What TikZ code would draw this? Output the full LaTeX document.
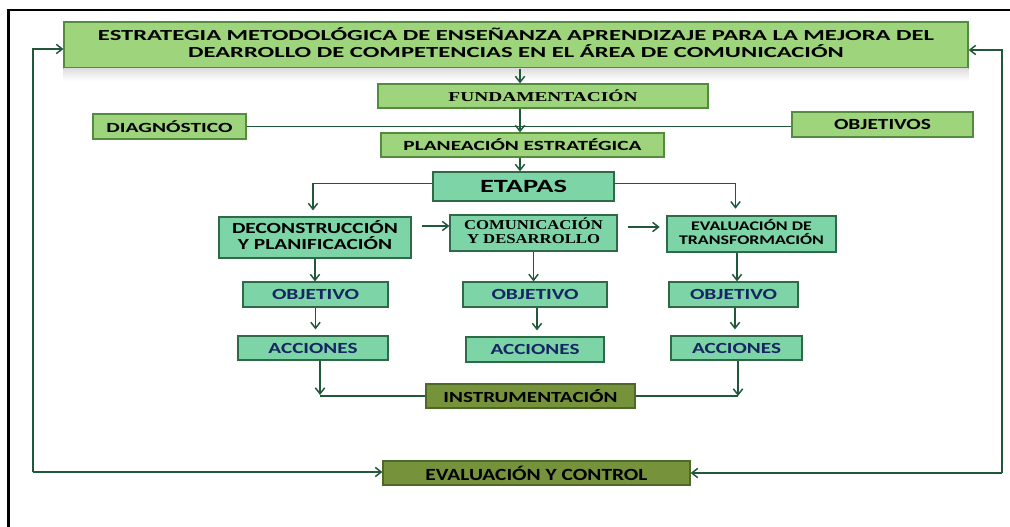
\documentclass[tikz,border=0pt]{standalone}
\usepackage{fontspec}
\setmainfont{Carlito}
\newfontfamily\serifbold{Liberation Serif}
\usepackage{graphicx}
\usetikzlibrary{arrows.meta,calc}

\definecolor{verdeclaro}{RGB}{157,212,124}
\definecolor{bordeclaro}{RGB}{84,140,62}
\definecolor{vmenta}{RGB}{125,212,167}
\definecolor{bordementa}{RGB}{46,105,72}
\definecolor{oliva}{RGB}{118,147,59}
\definecolor{bordeoliva}{RGB}{78,104,40}
\definecolor{flecha}{RGB}{33,88,58}
\definecolor{azul}{RGB}{22,38,98}

\newlength{\pxu}\setlength{\pxu}{0.75pt}
\newcommand{\fitw}[2]{\resizebox{#1\pxu}{\height}{#2}}

\begin{document}
\begin{tikzpicture}[x=0.75pt, y=-0.75pt,
    caja/.style ={rectangle, draw, line width=0.9pt, inner sep=0pt},
    claro/.style ={caja, fill=verdeclaro, draw=bordeclaro},
    cmenta/.style ={caja, fill=vmenta, draw=bordementa},
    coliva/.style ={caja, fill=oliva, draw=bordeoliva},
    enlace/.style ={draw=flecha, line width=1.1pt},
    flechita/.style ={enlace, -{Straight Barb[length=4.5pt,width=7pt]}}]
   \useasboundingbox (0,0) rectangle (1010,527);
   % marco
   \draw[line width=1.6pt] (1020,10) -- (8.5,10) -- (8.5,540);

   \node[claro, minimum width=678pt, minimum height=34.5pt, font=\bfseries\fontsize{11.5}{12}\selectfont] (titulo) at (516,45)
     {\fitw{836}{\begin{tabular}{@{}c@{}}ESTRATEGIA METODOLÓGICA DE ENSEÑANZA APRENDIZAJE PARA LA MEJORA DEL\\[-0.8pt] DEARROLLO DE COMPETENCIAS EN EL ÁREA DE COMUNICACIÓN\end{tabular}}};
   \shade[top color=black!13, bottom color=white] (titulo.south west) rectangle ($(titulo.south east)+(0,12)$);
   \node[claro, minimum width=247.5pt, minimum height=18pt, font=\serifbold\bfseries\fontsize{10.2}{12}\selectfont] (fund) at (543,96) {\fitw{189}{FUNDAMENTACIÓN}};
   \node[claro, minimum width=114.75pt, minimum height=18.75pt, font=\bfseries\fontsize{10.5}{12}\selectfont] (diag) at (169.5,126.5) {\fitw{126}{DIAGNÓSTICO}};
   \node[claro, minimum width=135.75pt, minimum height=18.75pt, font=\bfseries\fontsize{11.6}{12}\selectfont] (objs) at (882.5,124.5) {\fitw{97}{OBJETIVOS}};
   \node[claro, minimum width=212.25pt, minimum height=18pt, font=\bfseries\fontsize{10.5}{12}\selectfont] (plan) at (522.5,145) {\fitw{238}{PLANEACIÓN ESTRATÉGICA}};
   \node[cmenta, minimum width=135.75pt, minimum height=21.75pt, font=\bfseries\fontsize{14}{16}\selectfont] (etapas) at (523.5,186.5) {\fitw{87}{ETAPAS}};

   \node[cmenta, minimum width=144pt, minimum height=30.75pt, font=\bfseries\fontsize{11.6}{12}\selectfont] (decon) at (315,237.5)
     {\fitw{166}{\begin{tabular}{@{}c@{}}DECONSTRUCCIÓN\\[-1.3pt] Y PLANIFICACIÓN\end{tabular}}};
   \node[cmenta, minimum width=125.25pt, minimum height=27pt, font=\serifbold\bfseries\fontsize{10.2}{12}\selectfont] (comun) at (533.5,233)
     {\fitw{139}{\begin{tabular}{@{}c@{}}COMUNICACIÓN\\[-1.5pt] Y DESARROLLO\end{tabular}}};
   \node[cmenta, minimum width=126.75pt, minimum height=27pt, font=\bfseries\fontsize{9.9}{12}\selectfont] (evalt) at (751.5,234)
     {\fitw{145}{\begin{tabular}{@{}c@{}}EVALUACIÓN DE\\[-1.5pt] TRANSFORMACIÓN\end{tabular}}};

   \node[cmenta, minimum width=108.75pt, minimum height=18.75pt, text=azul, font=\bfseries\fontsize{11.6}{12}\selectfont] (obj1) at (315.5,294.5) {\fitw{87}{OBJETIVO}};
   \node[cmenta, minimum width=108pt, minimum height=18.75pt, text=azul, font=\bfseries\fontsize{11.6}{12}\selectfont] (obj2) at (535,294.5) {\fitw{87}{OBJETIVO}};
   \node[cmenta, minimum width=96.75pt, minimum height=18.75pt, text=azul, font=\bfseries\fontsize{11.6}{12}\selectfont] (obj3) at (733.5,294.5) {\fitw{87}{OBJETIVO}};
   \node[cmenta, minimum width=112.5pt, minimum height=18pt, text=azul, font=\bfseries\fontsize{11.6}{12}\selectfont] (acc1) at (313,348) {\fitw{89}{ACCIONES}};
   \node[cmenta, minimum width=103.5pt, minimum height=18.75pt, text=azul, font=\bfseries\fontsize{11.6}{12}\selectfont] (acc2) at (535,349.5) {\fitw{89}{ACCIONES}};
   \node[cmenta, minimum width=98.25pt, minimum height=18pt, text=azul, font=\bfseries\fontsize{11.6}{12}\selectfont] (acc3) at (736.5,348) {\fitw{89}{ACCIONES}};

   \node[coliva, minimum width=156.75pt, minimum height=18pt, font=\bfseries\fontsize{11.6}{12}\selectfont] (instr) at (530.5,396) {\fitw{174}{INSTRUMENTACIÓN}};
   \node[coliva, minimum width=230.25pt, minimum height=18pt, font=\bfseries\fontsize{12.8}{14}\selectfont] (evalc) at (536.5,473) {\fitw{222}{EVALUACIÓN Y CONTROL}};

   % eje central
   \coordinate (eje) at (520,0);
   \draw[flechita] (titulo.south -| eje) -- (fund.north -| eje);
   \draw[enlace] (diag.east) -- (diag.east -| objs.west);
   \draw[flechita] (fund.south -| eje) -- (plan.north -| eje);
   \draw[flechita] (plan.south -| eje) -- (etapas.north -| eje);

   % etapas
   \draw[flechita, shorten >=4.5pt] ($(etapas.west)+(0,-3)$) -| ($(decon.north)+(-2,0)$);
   \draw[flechita, shorten >=5pt] ($(etapas.east)+(0,-3)$) -| ($(evalt.north)+(-16,0)$);
   \coordinate (d1) at ($(decon.east)+(0,-11.5)$);
   \draw[flechita, shorten <=8pt] (d1) -- (d1 -| comun.west);
   \coordinate (c1) at ($(comun.east)+(0,-6)$);
   \draw[flechita, shorten <=8pt, shorten >=5pt] (c1) -- (c1 -| evalt.west);

   \draw[flechita] (decon.south) -- (decon.south |- obj1.north);
   \draw[flechita] (comun.south) -- (comun.south |- obj2.north);
   \coordinate (e1) at ($(evalt.south)+(-14.5,0)$);
   \draw[flechita] (e1) -- (e1 |- obj3.north);
   \draw[flechita, shorten >=4.5pt] (obj1.south) -- (obj1.south |- acc1.north);
   \coordinate (o2) at ($(obj2.south)+(2,0)$);
   \draw[flechita, shorten >=4.5pt] (o2) -- (o2 |- acc2.north);
   \coordinate (o3) at ($(obj3.south)+(1.5,0)$);
   \draw[flechita, shorten >=4.5pt] (o3) -- (o3 |- acc3.north);

   % instrumentacion
   \coordinate (esq1) at ($(instr.west -| acc1.south)+(7,-1)$);
   \draw[enlace] (instr.west) -- (instr.west -| esq1);
   \draw[flechita] (acc1.south -| esq1) -- (esq1);
   \coordinate (esq2) at ($(instr.east -| acc3.south)+(1.5,0)$);
   \draw[enlace] (instr.east) -- (esq2);
   \draw[flechita] (acc3.south -| esq2) -- (esq2);

   % retroalimentacion
   \coordinate (izq) at (33,472);
   \draw[flechita] (izq) |- ($(titulo.west)+(0,4)$);
   \draw[flechita] (izq) -- (izq -| evalc.west);
   \coordinate (der) at (1002,473);
   \draw[flechita] (der) |- ($(titulo.east)+(0,5)$);
   \draw[flechita] (der) -- (der -| evalc.east);
\end{tikzpicture}
\end{document}
